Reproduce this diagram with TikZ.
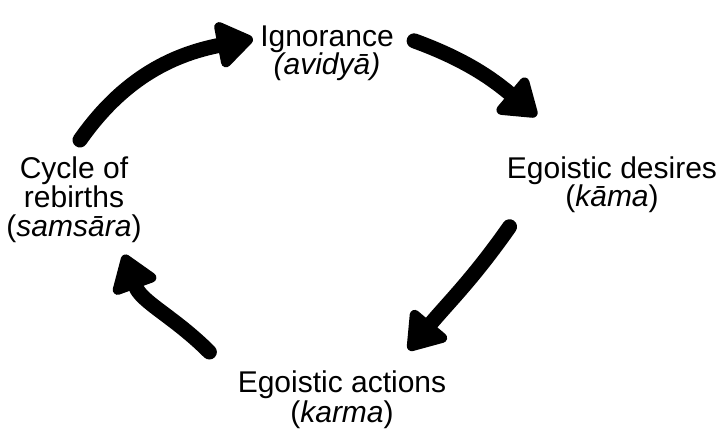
\documentclass[tikz,border=0pt]{standalone}
\usepackage{fontspec}
\setmainfont{Liberation Sans}
\usetikzlibrary{arrows.meta}
\tikzstyle{stage} = [align=center, inner sep=0pt, anchor=north, font=\fontsize{15}{14.5}\selectfont]
\tikzstyle{blob} = [line width=7.5pt, line cap=round, line join=round, -{Triangle[round, length=20pt, width=26pt]}]

\begin{document}
\begin{tikzpicture}[x=50pt, y=50pt]
    \useasboundingbox (0,0) rectangle (7.28,4.30);
    \draw (3.27,4.05) node[stage] (ign) {Ignorance\\[-0.5pt]\textit{(avidyā)}};
    \draw (6.12,2.74) node[stage] (des) {Egoistic desires\\[-0.5pt](\textit{kāma})};
    \draw (3.42,0.60) node[stage] (act) {Egoistic actions\\[0.5pt](\textit{karma})};
    \draw (0.74,2.74) node[stage] (cyc) {Cycle of\\rebirths\\(\textit{samsāra})};
    \draw [blob] ([shift={(0.06,0.16)}]cyc.north) to[out=55, in=191] ([shift={(-0.07,0.14)}]ign.west);
    \draw [blob] ([shift={(0.20,0.12)}]ign.east) to[out=-20, in=140] ([shift={(0.30,0.40)}]des.north west);
    \draw [blob] ([shift={(0.03,-0.14)}]des.south west) to[out=-125, in=50] ([shift={(-0.38,0.20)}]act.north east);
    \draw [blob] ([shift={(-0.28,0.18)}]act.north west) to[out=135, in=-70] ([shift={(0.50,-0.12)}]cyc.south);
\end{tikzpicture}
\end{document}
